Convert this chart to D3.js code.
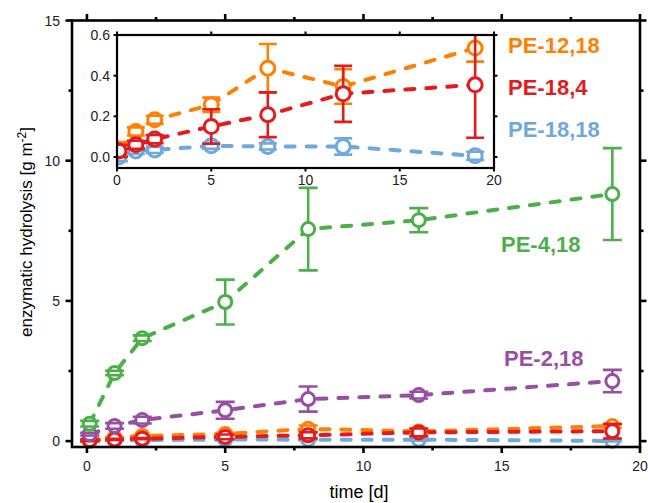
<!DOCTYPE html>
<html>
<head>
<meta charset="utf-8">
<script src="https://cdn.jsdelivr.net/npm/d3@7"></script>
<style>
  body { margin: 0; background: #fff; }
  text { font-family: "Liberation Sans", Arial, sans-serif; }
</style>
</head>
<body>
<div id="chart"></div>
<script>
// sampling days (same for every series)
var days = [0.1, 1, 2, 5, 8, 12, 19];

// mean hydrolysis [g m-2] and error
var pe418 = [0.62, 2.43, 3.67, 4.96, 7.56, 7.88, 8.81];
var pe418Err = [0.1, 0.08, 0.1, 0.8, 1.47, 0.43, 1.64];
var pe218 = [0.25, 0.54, 0.75, 1.1, 1.5, 1.64, 2.14];
var pe218Err = [0.05, 0.1, 0.12, 0.3, 0.45, 0.12, 0.4];
var pe1218 = [0.04, 0.126, 0.183, 0.257, 0.437, 0.347, 0.536];
var pe1218Err = [0.03, 0.02, 0.02, 0.035, 0.119, 0.085, 0.067];
var pe184 = [0.03, 0.06, 0.088, 0.15, 0.208, 0.311, 0.355];
var pe184Err = [0.03, 0.02, 0.02, 0.085, 0.11, 0.138, 0.26];
var pe1818 = [0.0, 0.03, 0.035, 0.055, 0.052, 0.052, 0.006];
var pe1818Err = [0.02, 0.015, 0.015, 0.015, 0.015, 0.04, 0.02];

// tick labels
var mainXTicks = [0, 5, 10, 15, 20];
var mainYTicks = [0, 5, 10, 15];
var insetXTicks = [0, 5, 10, 15, 20];
var insetYTicks = [0, 0.2, 0.4, 0.6];

var seriesNames = ["PE-18,18", "PE-12,18", "PE-18,4", "PE-2,18", "PE-4,18"];
var seriesVals = [pe1818, pe1218, pe184, pe218, pe418];
var seriesErrs = [pe1818Err, pe1218Err, pe184Err, pe218Err, pe418Err];
var colors = {
  "PE-18,18": "#6fa8dc",
  "PE-12,18": "#ff8000",
  "PE-18,4": "#e41a1c",
  "PE-2,18": "#984ea3",
  "PE-4,18": "#4daf4a"
};

var svg = d3.select("#chart").append("svg")
  .attr("width", 648)
  .attr("height", 503);

// build records for each series
var series = seriesNames.map(function (name, i) {
  return {
    name: name,
    points: days.map(function (d, j) {
      return { day: d, val: seriesVals[i][j], err: seriesErrs[i][j] };
    })
  };
});

function drawSeries(g, x, y, data, capW, r) {
  var line = d3.line().x(d => x(d.day)).y(d => y(d.val));
  data.forEach(function (s) {
    g.append("path")
      .datum(s.points)
      .attr("d", line)
      .attr("fill", "none")
      .attr("stroke", colors[s.name])
      .attr("stroke-width", 4)
      .attr("stroke-linecap", "round")
      .attr("stroke-dasharray", "9,12");
  });
  data.forEach(function (s) {
    var c = colors[s.name];
    var sg = g.append("g");
    // open circles
    sg.selectAll("circle").data(s.points).enter().append("circle")
      .attr("cx", d => x(d.day))
      .attr("cy", d => y(d.val))
      .attr("r", r)
      .attr("fill", "#fff")
      .attr("stroke", c)
      .attr("stroke-width", 3);
    // error bars (outside the circle)
    sg.selectAll(".eb").data(s.points).enter().append("path")
      .attr("d", function (d) {
        var xx = x(d.day), yc = y(d.val), y1 = y(d.val + d.err), y0 = y(d.val - d.err);
        var p = "M" + (xx - capW) + "," + y1 + "H" + (xx + capW) +
          "M" + (xx - capW) + "," + y0 + "H" + (xx + capW);
        if (yc - y1 > r) p += "M" + xx + "," + y1 + "V" + (yc - r);
        if (y0 - yc > r) p += "M" + xx + "," + (yc + r) + "V" + y0;
        return p;
      })
      .attr("fill", "none")
      .attr("stroke", c)
      .attr("stroke-width", 2.6);
  });
}

// ---------- main chart ----------
var x = d3.scaleLinear().domain([-0.54, 20]).range([72, 640]);
var y = d3.scaleLinear().domain([-0.21, 15]).range([447, 20.5]);

var main = svg.append("g");
drawSeries(main, x, y, series, 9.5, 6.5);

// frame
main.append("rect")
  .attr("x", x.range()[0]).attr("y", y.range()[1])
  .attr("width", x.range()[1] - x.range()[0])
  .attr("height", y.range()[0] - y.range()[1])
  .attr("fill", "none").attr("stroke", "#000").attr("stroke-width", 2.6);

var minorX = [2.5, 7.5, 12.5, 17.5];
var minorY = [2.5, 7.5, 12.5];

var ticksG = main.append("g").attr("stroke", "#000").attr("stroke-width", 2.6);
mainXTicks.forEach(function (t) {
  ticksG.append("line").attr("x1", x(t)).attr("x2", x(t)).attr("y1", 447).attr("y2", 453);
  ticksG.append("line").attr("x1", x(t)).attr("x2", x(t)).attr("y1", 20.5).attr("y2", 14);
});
minorX.forEach(function (t) {
  ticksG.append("line").attr("x1", x(t)).attr("x2", x(t)).attr("y1", 447).attr("y2", 450.5);
  ticksG.append("line").attr("x1", x(t)).attr("x2", x(t)).attr("y1", 20.5).attr("y2", 17);
});
mainYTicks.forEach(function (t) {
  ticksG.append("line").attr("x1", 72).attr("x2", 65.5).attr("y1", y(t)).attr("y2", y(t));
  ticksG.append("line").attr("x1", 640).attr("x2", 646.5).attr("y1", y(t)).attr("y2", y(t));
});
minorY.forEach(function (t) {
  ticksG.append("line").attr("x1", 72).attr("x2", 68.5).attr("y1", y(t)).attr("y2", y(t));
  ticksG.append("line").attr("x1", 640).attr("x2", 643.5).attr("y1", y(t)).attr("y2", y(t));
});

main.selectAll(".xl").data(mainXTicks).enter().append("text")
  .attr("x", d => x(d)).attr("y", 471)
  .attr("text-anchor", "middle").attr("font-size", 14).attr("fill", "#222")
  .text(d => d);
main.selectAll(".yl").data(mainYTicks).enter().append("text")
  .attr("x", 60).attr("y", d => y(d) + 5)
  .attr("text-anchor", "end").attr("font-size", 14).attr("fill", "#222")
  .text(d => d);

// axis titles
main.append("text")
  .attr("x", 359).attr("y", 498)
  .attr("text-anchor", "middle").attr("font-size", 18)
  .text("time [d]");
var yt = main.append("text")
  .attr("transform", "translate(32,232) rotate(-90)")
  .attr("text-anchor", "middle").attr("font-size", 17);
yt.append("tspan").text("enzymatic hydrolysis [g m");
yt.append("tspan").attr("dy", -6).attr("font-size", 12).text("-2");
yt.append("tspan").attr("dy", 6).text("]");

// ---------- inset ----------
var ix = d3.scaleLinear().domain([0, 20]).range([117, 494]);
var iy = d3.scaleLinear().domain([-0.054, 0.6]).range([168, 35]);

var inset = svg.append("g");
inset.append("rect")
  .attr("x", 117).attr("y", 35).attr("width", 377).attr("height", 133)
  .attr("fill", "#fff");

svg.append("clipPath").attr("id", "insetClip").append("rect")
  .attr("x", 117).attr("y", 35).attr("width", 377).attr("height", 133);

var insetData = inset.append("g").attr("clip-path", "url(#insetClip)");
drawSeries(insetData, ix, iy, series.slice(0, 3), 9, 7);

inset.append("rect")
  .attr("x", 117).attr("y", 35).attr("width", 377).attr("height", 133)
  .attr("fill", "none").attr("stroke", "#000").attr("stroke-width", 2.2);

var iticks = inset.append("g").attr("stroke", "#000").attr("stroke-width", 2);
insetXTicks.forEach(function (t) {
  iticks.append("line").attr("x1", ix(t)).attr("x2", ix(t)).attr("y1", 35).attr("y2", 31.5);
  iticks.append("line").attr("x1", ix(t)).attr("x2", ix(t)).attr("y1", 168).attr("y2", 171.5);
});
insetYTicks.forEach(function (t) {
  iticks.append("line").attr("x1", 117).attr("x2", 113.5).attr("y1", iy(t)).attr("y2", iy(t));
  iticks.append("line").attr("x1", 494).attr("x2", 497.5).attr("y1", iy(t)).attr("y2", iy(t));
});

inset.selectAll(".ixl").data(insetXTicks).enter().append("text")
  .attr("x", d => ix(d)).attr("y", 185)
  .attr("text-anchor", "middle").attr("font-size", 14).attr("fill", "#222")
  .text(d => d);
inset.selectAll(".iyl").data(insetYTicks).enter().append("text")
  .attr("x", 110).attr("y", d => iy(d) + 5)
  .attr("text-anchor", "end").attr("font-size", 14).attr("fill", "#222")
  .text(d => d3.format(".1f")(d));

// ---------- series labels ----------
var labelPos = {
  "PE-12,18": [508, 53],
  "PE-18,4": [508, 95],
  "PE-18,18": [508, 137],
  "PE-4,18": [501, 252],
  "PE-2,18": [504, 366]
};
seriesNames.forEach(function (name) {
  svg.append("text")
    .attr("x", labelPos[name][0]).attr("y", labelPos[name][1])
    .attr("font-size", 22).attr("font-weight", "bold")
    .attr("fill", colors[name])
    .text(name);
});
</script>
</body>
</html>
